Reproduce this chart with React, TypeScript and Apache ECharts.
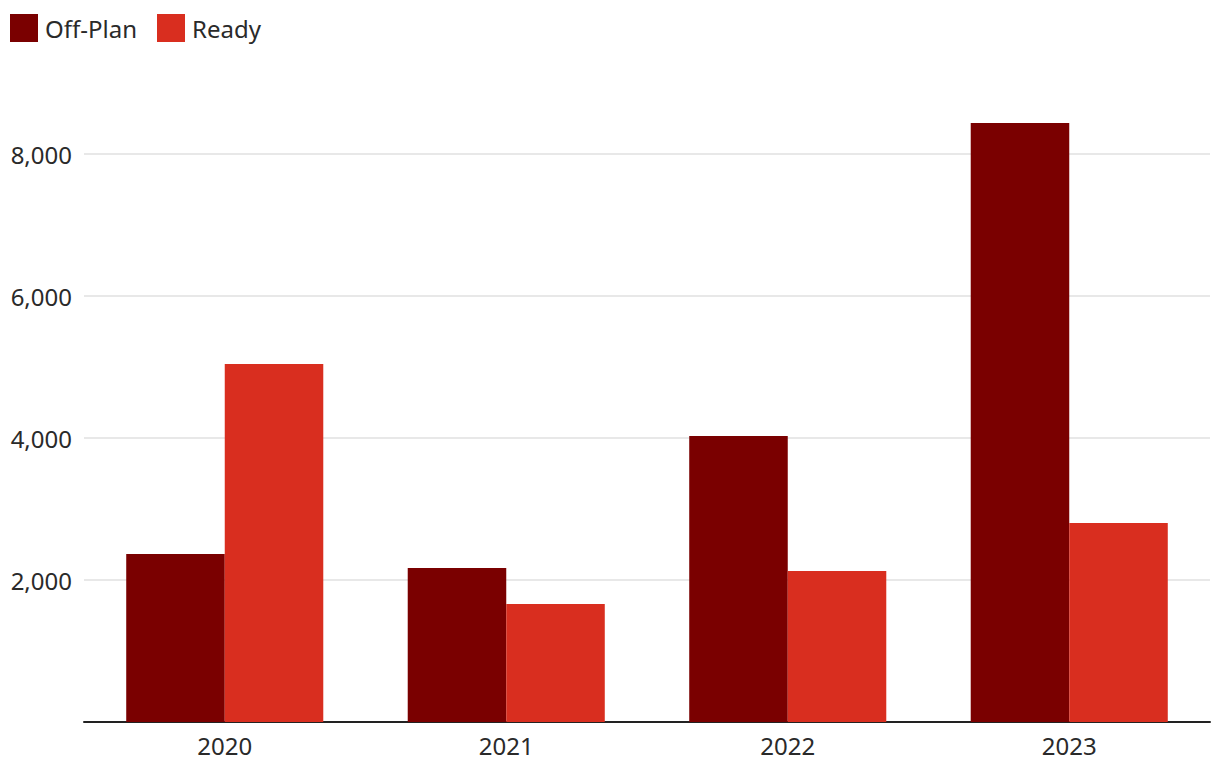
import React, { useEffect, useRef } from "react";
import * as echarts from "echarts";

const categories = ["2020", "2021", "2022", "2023"];
const offPlan = [2366, 2169, 4028, 8437];
const ready = [5042, 1662, 2127, 2803];
const seriesNames = ["Off-Plan", "Ready"];

export default function App() {
  const ref = useRef<HTMLDivElement>(null);
  useEffect(() => {
    document.body.style.margin = "0";
    const chart = echarts.init(ref.current!, null, { renderer: "svg" });
    const font = "'Noto Sans', 'Liberation Sans', sans-serif";
    chart.setOption({
      animation: false,
      color: ["#7a0000", "#d92e1f"],
      textStyle: { fontFamily: font },
      legend: {
        left: 10,
        top: 14,
        padding: 0,
        itemWidth: 28,
        itemHeight: 28,
        itemGap: 20,
        icon: "rect",
        textStyle: { fontSize: 24, color: "#2a2a2a", fontFamily: font, padding: [0, 0, 0, 2] },
        data: seriesNames,
      },
      grid: { left: 84, right: 10, top: 83, bottom: 56, containLabel: false },
      xAxis: {
        type: "category",
        data: categories,
        axisLine: { lineStyle: { color: "#222", width: 2 } },
        axisTick: { show: false },
        axisLabel: { fontSize: 24, color: "#2a2a2a", margin: 11, fontFamily: font },
      },
      yAxis: {
        type: "value",
        min: 0,
        max: 9000,
        interval: 2000,
        axisLine: { show: false },
        axisTick: { show: false },
        splitLine: { showMaxLine: false, lineStyle: { color: "#e0e0e0", width: 1.5 } },
        axisLabel: {
          fontSize: 24,
          color: "#2a2a2a",
          margin: 12,
          showMinLabel: false,
          showMaxLabel: false,
          fontFamily: font,
          formatter: (v: number) => v.toLocaleString("en-US"),
        },
      },
      series: [
        { name: seriesNames[0], type: "bar", data: offPlan, barGap: "0%", barCategoryGap: "30%" },
        { name: seriesNames[1], type: "bar", data: ready, barGap: "0%", barCategoryGap: "30%" },
      ],
    });
    return () => chart.dispose();
  }, []);
  return <div ref={ref} style={{ width: 1220, height: 778 }} />;
}
